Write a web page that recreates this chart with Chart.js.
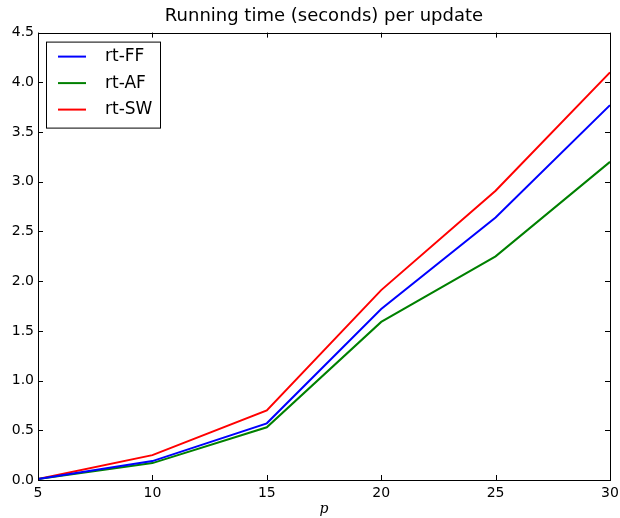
<!DOCTYPE html>
<html>
<head>
<meta charset="utf-8">
<script src="https://cdn.jsdelivr.net/npm/chart.js@4"></script>
<style>
  html, body { margin: 0; padding: 0; background: #fff; }
  #wrap { width: 620px; height: 518px; }
</style>
</head>
<body>
<div id="wrap"><canvas id="myChart"></canvas></div>
<script>
const pValues = [5, 10, 15, 20, 25, 30];
const rtFF = [0.01, 0.19, 0.57, 1.72, 2.64, 3.77];
const rtAF = [0.01, 0.17, 0.53, 1.59, 2.25, 3.20];
const rtSW = [0.01, 0.25, 0.70, 1.91, 2.91, 4.10];
const seriesNames = ["rt-FF", "rt-AF", "rt-SW"];
const seriesColors = ["#0000ff", "#008000", "#ff0000"];

const toPoints = ys => ys.map((y, i) => ({ x: pValues[i], y: y }));

// matplotlib-ish frame with inward ticks on all four sides
const framePlugin = {
  id: 'frame',
  afterDraw(chart) {
    const { ctx, chartArea: a, scales } = chart;
    ctx.save();
    ctx.strokeStyle = '#000';
    ctx.lineWidth = 1;
    ctx.beginPath();
    scales.x.ticks.forEach(t => {
      const px = Math.round(scales.x.getPixelForValue(t.value)) + 0.5;
      ctx.moveTo(px, a.bottom); ctx.lineTo(px, a.bottom - 5);
      ctx.moveTo(px, a.top); ctx.lineTo(px, a.top + 5);
    });
    scales.y.ticks.forEach(t => {
      const py = Math.round(scales.y.getPixelForValue(t.value)) + 0.5;
      ctx.moveTo(a.left, py); ctx.lineTo(a.left + 5, py);
      ctx.moveTo(a.right, py); ctx.lineTo(a.right - 5, py);
    });
    ctx.stroke();
    ctx.strokeRect(Math.round(a.left) + 0.5, Math.round(a.top) + 0.5,
      Math.round(a.right - a.left), Math.round(a.bottom - a.top));
    ctx.restore();
  }
};

// legend box in upper left of the axes
const legendPlugin = {
  id: 'boxLegend',
  afterDraw(chart) {
    const { ctx, chartArea: a } = chart;
    const x0 = a.left + 8, y0 = a.top + 9, w = 114, h = 86;
    ctx.save();
    ctx.fillStyle = '#fff';
    ctx.fillRect(x0, y0, w, h);
    ctx.strokeStyle = '#000';
    ctx.lineWidth = 1;
    ctx.strokeRect(x0 + 0.5, y0 + 0.5, w, h);
    ctx.font = '17px "DejaVu Sans"';
    ctx.textBaseline = 'middle';
    chart.data.datasets.forEach((ds, i) => {
      const yy = y0 + 15 + i * 26.5;
      ctx.strokeStyle = ds.borderColor;
      ctx.lineWidth = 2;
      ctx.beginPath();
      ctx.moveTo(x0 + 12, yy); ctx.lineTo(x0 + 40, yy);
      ctx.stroke();
      ctx.fillStyle = '#000';
      ctx.fillText(ds.label, x0 + 59, yy);
    });
    ctx.restore();
  }
};

new Chart(document.getElementById('myChart'), {
  type: 'line',
  data: {
    datasets: seriesNames.map((name, i) => ({
      label: name,
      data: toPoints([rtFF, rtAF, rtSW][i]),
      borderColor: seriesColors[i],
      backgroundColor: seriesColors[i],
      borderWidth: 2,
      pointRadius: 0,
      tension: 0,
      fill: false
    }))
  },
  options: {
    responsive: true,
    maintainAspectRatio: false,
    animation: false,
    layout: { padding: { left: 0, right: 0, top: 0, bottom: 0 } },
    plugins: {
      legend: { display: false },
      tooltip: { enabled: false },
      title: {
        display: true,
        fullSize: false,
        text: 'Running time (seconds) per update',
        color: '#000',
        font: { family: "'DejaVu Sans'", size: 18, weight: 'normal' },
        padding: { top: 6, bottom: 5 }
      }
    },
    scales: {
      x: {
        type: 'linear',
        min: 5,
        max: 30,
        grid: { display: false, drawTicks: false },
        border: { display: false },
        ticks: {
          stepSize: 5,
          color: '#000',
          padding: 5,
          maxRotation: 0,
          font: { family: "'DejaVu Sans'", size: 14 }
        },
        title: {
          display: true,
          text: 'p',
          color: '#000',
          padding: { top: 4, bottom: 0 },
          font: { family: "'DejaVu Serif'", size: 14, style: 'italic' }
        },
        afterFit: s => { s.height = 38; s.paddingRight = 10; }
      },
      y: {
        min: 0,
        max: 4.5,
        grid: { display: false, drawTicks: false },
        border: { display: false },
        ticks: {
          stepSize: 0.5,
          color: '#000',
          padding: 4,
          font: { family: "'DejaVu Sans'", size: 14 },
          callback: v => v.toFixed(1)
        },
        afterFit: s => { s.width = 38; }
      }
    }
  },
  plugins: [framePlugin, legendPlugin]
});
</script>
</body>
</html>
